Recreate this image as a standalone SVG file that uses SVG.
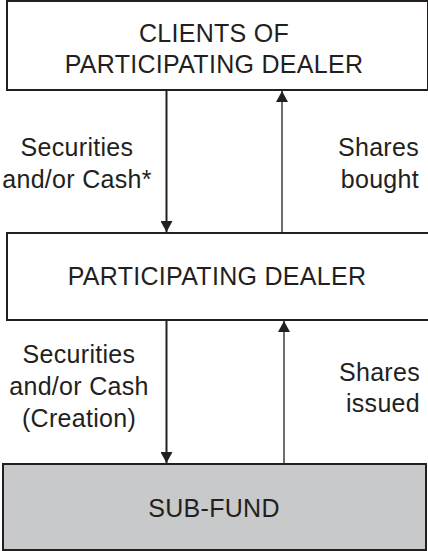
<svg xmlns="http://www.w3.org/2000/svg" width="428" height="551" viewBox="0 0 428 551">
<style>
.box{fill:#fff;stroke:#231f20;stroke-width:2}
.fund{fill:#c8c9cb;stroke:#231f20;stroke-width:2}
.t{font-family:"Liberation Sans",Arial,sans-serif;font-size:25px;letter-spacing:0.3px;fill:#231f20}
.c{text-anchor:middle}
.r{text-anchor:end}
.thick{stroke:#231f20;stroke-width:2;fill:none}
.thin{stroke:#231f20;stroke-width:1.3;fill:none}
</style>
<defs>
<marker id="ah" markerUnits="userSpaceOnUse" markerWidth="14" markerHeight="12" viewBox="0 0 12 12" refX="11" refY="6" orient="auto">
<path d="M0,0 L11,6 L0,12 Z" fill="#231f20"/>
</marker>
</defs>
<g id="clients">
<rect class="box" x="7" y="1" width="421" height="89"/>
<text class="t c" x="214" y="42">CLIENTS OF</text>
<text class="t c" x="214" y="73">PARTICIPATING DEALER</text>
</g>
<g id="dealer">
<rect class="box" x="7" y="233" width="422" height="87"/>
<text class="t c" x="217" y="285">PARTICIPATING DEALER</text>
</g>
<g id="subfund">
<rect class="fund" x="3" y="464" width="423" height="86"/>
<text class="t c" x="214" y="517">SUB-FUND</text>
</g>
<g id="connectors">
<line class="thick" x1="166.5" y1="90" x2="166.5" y2="232" marker-end="url(#ah)"/>
<line class="thin" x1="282" y1="233" x2="282" y2="91" marker-end="url(#ah)"/>
<line class="thick" x1="166.5" y1="320" x2="166.5" y2="463" marker-end="url(#ah)"/>
<line class="thin" x1="284" y1="464" x2="284" y2="321" marker-end="url(#ah)"/>
</g>
<g id="labels">
<text class="t c" x="77" y="156">Securities</text>
<text class="t c" x="77" y="188">and/or Cash*</text>
<text class="t r" x="419" y="156">Shares</text>
<text class="t r" x="419" y="188">bought</text>
<text class="t c" x="79" y="363">Securities</text>
<text class="t c" x="79" y="395">and/or Cash</text>
<text class="t c" x="79" y="427">(Creation)</text>
<text class="t r" x="420" y="381">Shares</text>
<text class="t r" x="420" y="412">issued</text>
</g>
</svg>
